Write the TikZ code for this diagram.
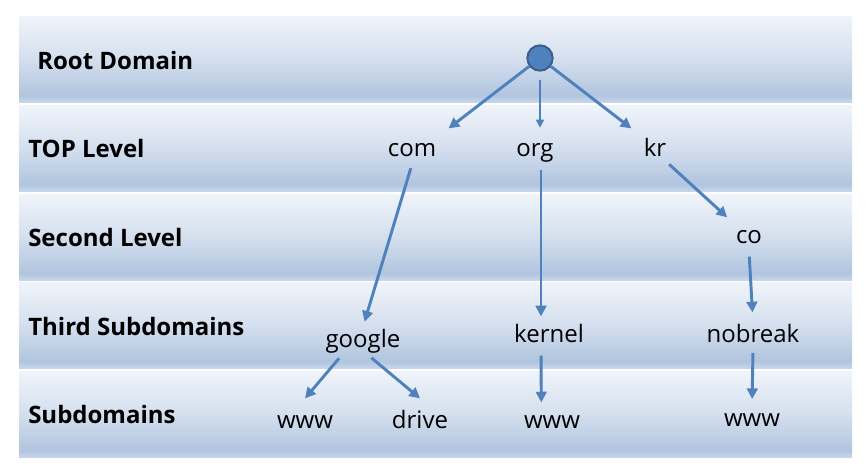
\documentclass[tikz,border=0pt]{standalone}
\usepackage{fontspec}
\setmainfont{Open Sans}
\usetikzlibrary{arrows.meta, positioning}

\definecolor{bandtop}{HTML}{F0F4FA}
\definecolor{bandmid}{HTML}{D4DFEE}
\definecolor{banddark}{HTML}{B1C5DF}
\definecolor{bandlow}{HTML}{C6D5E9}
\definecolor{linkblue}{HTML}{4F81BD}
\definecolor{rootline}{HTML}{3A5F8C}
\pgfdeclareverticalshading{bandshade}{100bp}{color(0bp)=(bandlow); color(25bp)=(bandlow); color(29bp)=(banddark); color(50bp)=(bandmid); color(75bp)=(bandtop); color(100bp)=(bandtop)}

\begin{document}
\begin{tikzpicture}[
	x=0.75pt, y=-0.75pt,
	band/.style={shading=bandshade, draw=none},
	level/.style={font=\bfseries\fontsize{18}{22}\selectfont, anchor=west, inner sep=0pt},
	dnsname/.style={font=\fontsize{18}{22}\selectfont, anchor=base, inner sep=2pt, text height=13pt, text depth=4pt},
	link/.style={draw=linkblue, line width=2.2pt, -{Triangle[length=8pt, width=8pt]}},
	thinlink/.style={draw=linkblue, line width=1.1pt, -{Triangle[length=6pt, width=6pt]}}
	]
	\useasboundingbox (0,0) rectangle (867,469);
	
	% --- FAIXAS DOS NIVEIS ---
	\foreach \t in {16,105,194,282,371}
		\shade[band] (19,\t) rectangle (852,\t+86);
	
	\node[level] (lroot) at (37,60) {Root Domain};
	\node[level] (ltop) at (28,148) {TOP Level};
	\node[level] (lsecond) at (28,237) {Second Level};
	\node[level] (lthird) at (28,326) {Third Subdomains};
	\node[level] (lsub) at (28,414) {Subdomains};
	
	% --- NOS DO DNS ---
	\node[circle, draw=rootline, line width=1.5pt, fill=linkblue, minimum size=19pt, inner sep=0pt] (root) at (540,58) {};
	\node[dnsname] (com) at (412,156) {com};
	\node[dnsname] (org) at (535,156) {org};
	\node[dnsname] (kr) at (655,156) {kr};
	\node[dnsname] (co) at (749,243) {co};
	\node[dnsname] (google) at (363,347) {google};
	\node[dnsname] (kernel) at (549,342) {kernel};
	\node[dnsname] (nobreak) at (753,342) {nobreak};
	\node[dnsname] (www1) at (305,428) {www};
	\node[dnsname] (drive) at (420,428) {drive};
	\node[dnsname] (www2) at (552,428) {www};
	\node[dnsname] (www3) at (752,426) {www};
	
	% --- LIGACOES ---
	\draw[link, shorten >=9pt] (root) -- (com.north east);
	\draw[thinlink, shorten <=6pt, shorten >=6pt] (root) -- (root |- org.north);
	\draw[link, shorten >=9pt] (root) -- (kr.north west);
	\draw[link, shorten <=3pt, shorten >=4pt] (com.south) -- (google.north);
	\draw[link, shorten <=4pt, shorten >=4pt] ([xshift=4.5pt]org.south) -- ([xshift=-6pt]kernel.north);
	\draw[link, shorten >=6pt] (kr.south east) -- (co.north west);
	\draw[link, shorten <=4pt, shorten >=7pt] (co.south) -- (nobreak.north);
	\draw[link, shorten <=3pt] ([xshift=-16pt]google.south) -- ([yshift=7pt]www1.north);
	\draw[link, shorten <=3pt] ([xshift=4pt]google.south) -- ([yshift=7pt]drive.north);
	\draw[link, shorten <=4pt, shorten >=4pt] ([xshift=-6pt]kernel.south) -- ([xshift=-8pt]www2.north);
	\draw[link, shorten <=2pt, shorten >=5pt] (nobreak.south) -- (www3.north);
	
\end{tikzpicture}
\end{document}
